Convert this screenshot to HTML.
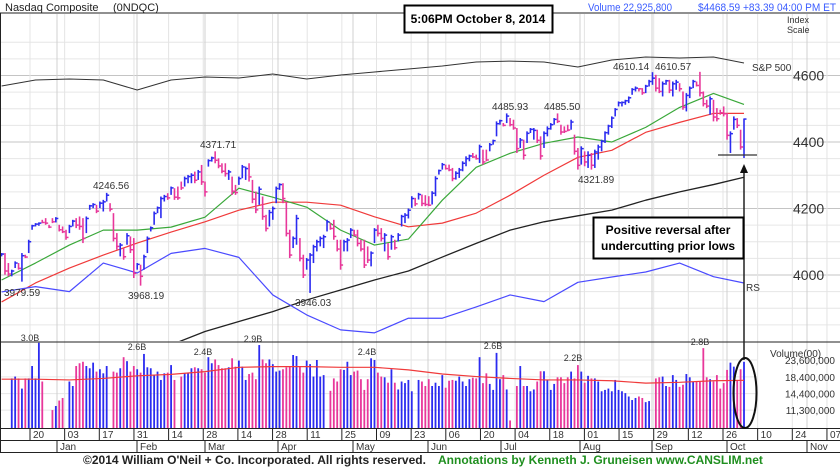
<!DOCTYPE html>
<html><head><meta charset="utf-8">
<style>
body{margin:0;background:#fff;width:840px;height:469px;overflow:hidden;font-family:"Liberation Sans",sans-serif}
svg{display:block}
</style></head>
<body>
<svg id="chart" width="840" height="469" viewBox="0 0 840 469" xmlns="http://www.w3.org/2000/svg" font-family="Liberation Sans, sans-serif">
<rect x="0" y="0" width="840" height="469" fill="#fff"/>
<g id="grid"></g>
<g id="lines"></g>
<g id="bars"></g>
<g id="vols"></g>
<g id="axis"></g>
<text x="5" y="11" font-size="11" fill="#222">Nasdaq Composite</text>
<text x="113" y="11" font-size="11" fill="#222">(0NDQC)</text>
<text x="588" y="11" font-size="11" fill="#3a5cff" textLength="84" lengthAdjust="spacingAndGlyphs">Volume 22,925,800</text>
<text x="698" y="11" font-size="11" fill="#3a5cff" textLength="138" lengthAdjust="spacingAndGlyphs">$4468.59 +83.39  04:00 PM ET</text>
<line x1="0" y1="13" x2="840" y2="13" stroke="#222" stroke-width="1"/>
<line x1="0.5" y1="13" x2="0.5" y2="452" stroke="#222"/>
<line x1="0" y1="342" x2="840" y2="342" stroke="#222" stroke-width="1"/>
<text x="787" y="23" font-size="9" fill="#333">Index</text>
<text x="787" y="33" font-size="9" fill="#333">Scale</text>
<rect x="404.5" y="5.5" width="148" height="27" fill="#fff" stroke="#000" stroke-width="2"/>
<text x="478" y="23" font-size="12" font-weight="bold" text-anchor="middle">5:06PM October 8, 2014</text>
<text x="770" y="357" font-size="10" fill="#333">Volume(00)</text>
<text x="752" y="71" font-size="10" fill="#333">S&amp;P 500</text>
<text x="746" y="291" font-size="10" fill="#333">RS</text>
<text x="83" y="464" font-size="12" font-weight="bold" fill="#222">©2014 William O'Neil + Co. Incorporated. All rights reserved.</text>
<text x="438" y="464" font-size="12" font-weight="bold" fill="#1f8f1f">Annotations by Kenneth J. Gruneisen www.CANSLIM.net</text>
<g id="annot" font-size="10" fill="#333">
<text x="4" y="296">3979.59</text>
<text x="93" y="189">4246.56</text>
<text x="128" y="299">3968.19</text>
<text x="200" y="148">4371.71</text>
<text x="295" y="306">3946.03</text>
<text x="492" y="110">4485.93</text>
<text x="544" y="110">4485.50</text>
<text x="578" y="183">4321.89</text>
<text x="613" y="70">4610.14</text>
<text x="655" y="70">4610.57</text>
<g font-size="9" text-anchor="middle">
<text x="30" y="341">3.0B</text>
<text x="137" y="350">2.6B</text>
<text x="203" y="355">2.4B</text>
<text x="253" y="342">2.9B</text>
<text x="367" y="355">2.4B</text>
<text x="493" y="349">2.6B</text>
<text x="573" y="361">2.2B</text>
<text x="700" y="345">2.8B</text>
</g>
<line x1="718" y1="155" x2="757" y2="155" stroke="#333" stroke-width="1.2"/>
<line x1="744" y1="172" x2="744" y2="360" stroke="#222" stroke-width="1.5"/>
<polygon points="744,164 740,173 748,173" fill="#111"/>
<rect x="593.5" y="217.5" width="150" height="41" fill="#fff" stroke="#000" stroke-width="2"/>
<text x="668" y="234" font-size="12" font-weight="bold" fill="#000" text-anchor="middle">Positive reversal after</text>
<text x="668" y="250" font-size="12" font-weight="bold" fill="#000" text-anchor="middle">undercutting prior lows</text>
<ellipse cx="745" cy="393" rx="11.5" ry="35" fill="none" stroke="#111" stroke-width="2"/>
</g>
</svg>
<script>
const highs=[4066,4066,4036,4016,4041,4036,4066,4061,4106,4151,4156,4158,4166,4171,4151,4171,4174,4151,4146,4136,4151,4166,4171,4176,4171,4176,4211,4216,4211,4221,4226,4247,4216,4186,4126,4096,4081,4126,4116,4111,4036,4031,4061,4116,4146,4191,4206,4236,4241,4246,4266,4261,4266,4281,4296,4301,4306,4311,4316,
4331,4281,4348,4356,4372,4351,4336,4336,4316,4296,4271,4296,4331,4326,4336,4286,4251,4266,4236,4181,4196,4206,4266,4276,4276,4221,4136,4116,4181,4111,4061,4051,4066,4091,4106,4116,4121,4166,4156,4166,4106,4106,4106,4111,4141,4136,4136,4106,4106,4086,4071,4141,4151,4141,4126,4096,4121,4106,4126,4181,4186,
4200,4237,4232,4247,4242,4240,4237,4252,4297,4317,4337,4332,4332,4322,4312,4322,4342,4357,4362,4367,4362,4392,4377,4377,4397,4407,4462,4467,4457,4486,4472,4467,4442,4412,4407,4432,4442,4442,4437,4417,4432,4447,4457,4472,4486,4452,4447,4452,4467,4422,4382,4387,4372,4372,4367,4377,
4392,4407,4432,4452,4477,4502,4522,4522,4527,4537,4562,4567,4562,4562,4572,4587,4610,4602,4592,4582,4587,4587,4582,4587,4577,4552,4547,4567,4587,4582,4611,4552,4527,4537,4527,4502,4497,4507,4487,4432,4477,4472,4437,4470];
const lows=[4056,4001,3996,3996,4021,4016,3980,4051,4066,4136,4146,4148,4156,4151,4141,4156,4158,4131,4126,4106,4126,4146,4141,4136,4096,4126,4196,4201,4186,4201,4191,4221,4191,4101,4076,4056,4046,4091,4066,3991,4016,3968,4016,4066,4131,4151,4186,4171,4221,4226,4241,4226,4226,4256,4266,4276,4276,4276,4286,
4271,4236,4326,4341,4336,4321,4306,4296,4286,4241,4241,4271,4291,4286,4281,4216,4186,4211,4166,4131,4146,4166,4216,4256,4216,4116,4051,4081,4091,4041,3991,4016,3946,4036,4071,4086,4081,4131,4136,4106,4071,4016,4071,4071,4111,4116,4086,4071,4021,4036,4026,4096,4116,4101,4071,4046,4076,4076,4101,4146,4156,
4170,4202,4207,4227,4207,4207,4207,4212,4237,4302,4317,4317,4312,4282,4287,4292,4312,4327,4342,4352,4347,4337,4332,4342,4372,4392,4417,4452,4447,4457,4447,4437,4367,4382,4347,4397,4427,4407,4397,4347,4382,4417,4437,4452,4457,4422,4427,4432,4437,4362,4317,4332,4327,4322,4317,4322,
4347,4372,4397,4422,4442,4477,4507,4507,4512,4517,4542,4552,4552,4542,4547,4567,4572,4552,4547,4537,4572,4547,4537,4557,4552,4497,4492,4532,4562,4567,4537,4507,4502,4482,4462,4462,4482,4477,4407,4367,4437,4442,4377,4352];
const closes=[4063,4012,4003,4012,4036,4020,4058,4054,4100,4148,4153,4156,4158,4156,4144,4160,4170,4136,4130,4113,4146,4162,4150,4146,4110,4170,4208,4212,4192,4216,4220,4240,4198,4110,4086,4090,4055,4118,4076,4005,4032,3996,4055,4110,4142,4185,4202,4230,4236,4232,4262,4234,4232,4262,4290,4296,4300,4285,4310,
4280,4250,4344,4352,4345,4328,4312,4305,4310,4252,4248,4290,4325,4320,4295,4228,4196,4258,4176,4140,4188,4200,4260,4272,4230,4125,4060,4110,4170,4050,4000,4045,4060,4085,4100,4110,4115,4160,4140,4116,4078,4030,4100,4105,4135,4120,4095,4078,4030,4045,4066,4135,4125,4110,4120,4055,4115,4082,4120,4176,4180,
4195,4230,4214,4242,4215,4212,4210,4246,4290,4314,4332,4320,4316,4290,4306,4316,4336,4350,4358,4355,4350,4386,4340,4346,4392,4404,4455,4464,4450,4478,4452,4442,4380,4406,4360,4426,4438,4435,4405,4358,4426,4440,4452,4468,4462,4430,4432,4436,4460,4372,4330,4380,4340,4360,4330,4370,
4385,4402,4428,4448,4472,4498,4518,4519,4524,4533,4558,4562,4560,4548,4568,4582,4592,4562,4552,4575,4584,4556,4575,4580,4560,4505,4540,4562,4582,4570,4548,4515,4508,4530,4475,4470,4488,4485,4420,4425,4468,4450,4385,4469];
const ups=[1,0,0,1,1,0,1,0,1,1,1,1,0,0,0,0,1,0,0,0,1,1,0,0,0,1,1,1,0,1,1,1,0,0,0,1,0,1,0,0,1,0,1,1,1,1,1,1,1,0,1,0,0,0,1,1,1,0,1,
0,0,1,1,0,0,0,0,1,0,0,1,1,1,0,0,0,1,0,0,1,1,1,1,0,0,0,1,1,0,0,1,1,1,1,1,1,1,0,0,0,0,1,1,1,0,0,0,0,0,1,1,0,0,1,0,1,0,1,1,1,
1,1,0,1,0,0,0,1,1,1,1,0,0,0,1,1,1,1,1,0,0,1,0,0,1,1,1,1,0,1,0,0,0,1,0,1,1,1,0,0,1,1,1,1,0,0,0,0,1,0,0,1,0,1,0,1,
1,1,1,1,1,1,1,1,1,1,1,1,0,0,1,1,1,0,0,1,1,0,1,1,0,0,1,1,1,0,0,0,0,1,0,0,0,0,0,1,1,0,0,1];
const volumes=[1.80,1.85,1.80,1.55,1.80,1.80,2.16,1.80,3.04,1.72,null,null,1.13,1.20,1.30,1.35,null,1.72,1.61,2.16,2.25,2.30,2.16,2.09,2.27,1.99,2.06,1.94,2.16,null,1.99,1.96,2.09,2.46,2.32,1.99,2.16,2.06,1.96,2.58,2.12,2.09,1.89,1.99,1.76,1.94,1.96,2.19,1.76,null,1.85,1.94,1.94,2.09,2.12,2.09,2.06,1.96,2.46,2.25,2.38,2.19,2.09,2.09,2.12,2.42,2.14,2.34,2.14,1.76,1.92,1.96,1.78,2.94,2.38,2.25,2.38,2.22,1.99,2.02,2.06,2.12,2.16,2.54,2.50,2.14,1.96,2.34,2.22,1.85,2.36,1.85,1.89,null,1.50,1.80,1.72,2.06,2.04,2.30,1.89,1.99,2.02,1.78,1.52,1.78,2.42,2.36,1.96,1.85,1.83,1.69,2.06,1.69,1.53,1.72,1.68,1.76,1.49,null,1.76,1.72,
1.61,1.78,1.61,1.69,1.61,1.89,1.57,1.74,1.76,1.74,1.85,1.72,1.61,1.78,1.82,1.80,2.46,1.68,1.94,1.66,1.52,2.62,1.78,1.89,1.53,0.97,null,1.61,2.16,1.61,1.61,1.49,1.53,1.72,2.00,2.00,1.76,1.52,1.66,1.83,1.83,1.68,1.83,1.99,1.80,2.19,1.99,1.69,1.87,1.80,1.80,1.72,1.49,1.52,1.55,1.49,1.76,1.52,1.49,1.45,1.38,1.31,1.35,1.38,1.35,1.27,1.29,null,1.80,1.83,1.85,1.61,1.59,1.89,1.76,1.59,1.64,1.92,1.83,1.72,1.72,1.72,2.81,1.83,1.78,1.72,1.89,1.55,1.68,2.04,2.27,2.14,1.76,2.06,2.30];
const maIdx=[0,10,20,30,40,50,60,70,80,90,100,110,120,130,140,150,160,170,180,190,200,210,219];
const ma50=[3985,4036,4090,4135,4135,4144,4174,4261,4234,4204,4135,4090,4108,4225,4324,4366,4396,4415,4400,4444,4504,4546,4513];
const ma200=[3919,3976,4021,4060,4096,4129,4160,4195,4219,4219,4210,4175,4145,4156,4186,4240,4300,4354,4375,4429,4459,4486,4486];
const ma200long=[null,null,null,null,null,3790,3830,3860,3890,3925,3955,3985,4012,4054,4095,4135,4160,4178,4195,4225,4250,4272,4294];
const rsLine=[3949,3965,3950,4036,4006,4065,4080,4053,3940,3880,3835,3826,3870,3870,3904,3940,3920,3978,3994,4009,4036,3995,3976];
const spLine=[1780,1826,1834,1826,1749,1826,1849,1842,1872,1834,1865,1888,1911,1934,1965,1972,1965,1926,1980,2003,1996,2003,1957];
const volAvg=[1.78,1.78,1.76,1.80,1.87,1.91,1.99,2.12,2.14,2.14,2.12,2.12,2.04,1.92,1.85,1.80,1.76,1.76,1.74,1.68,1.70,1.74,1.75];
const priceTicks=[4600,4400,4200,4000];
const volTicks=[2.36,1.84,1.44,1.13];
const volTickLabels=["23,600,000","18,400,000","14,400,000","11,300,000"];
const weekLabels=["20","03","17","31","14","28","14","28","11","25","09","23","06","20","04","18","01","15","29","12","26","10","24","07"];
const monthLabels=["Jan","Feb","Mar","Apr","May","Jun","Jul","Aug","Sep","Oct","Nov"];

const NS="http://www.w3.org/2000/svg";
const N=highs.length;
const SP=3.39;
function xBar(i){return 744-(N-1-i)*SP;}
function yP(p){return 275-(p-4000)*0.3325;}
function yV(v){return Math.min(428,360-Math.log(v/2.36)*68);}
function ySP(v){return 56+(2011-v)/7.7;}
function mk(tag,attrs,parent){const e=document.createElementNS(NS,tag);for(const k in attrs)e.setAttribute(k,attrs[k]);document.getElementById(parent).appendChild(e);return e;}
const BLUE="#2b2bf0",PINK="#e8379a";

for(let p=3850;p<=4700;p+=50){const y=yP(p);if(y<14||y>341)continue;
 const l=mk('line',{x1:0,x2:840,y1:y,y2:y,stroke:p%200===0?'#c4c4c4':'#e6e6e6','stroke-width':1},'grid');
 
 }
for(let k=0;k<volTicks.length;k++){const y=yV(volTicks[k]);
 const l=mk('line',{x1:0,x2:757,y1:y,y2:y,stroke:'#e6e6e6'},'grid');
 
 }
for(let k=0;k<weekLabels.length;k++){const x=30+k*34.65;
 const l=mk('line',{x1:x,x2:x,y1:14,y2:428,stroke:'#e4e4e4'},'grid');
 
 }
const monthX=[57,137,205,278,353,428,501,580,652,727,807];
for(let k=0;k<monthLabels.length;k++){const x=monthX[k];
 const l=mk('line',{x1:x,x2:x,y1:14,y2:428,stroke:'#d0d0d0'},'grid');
 
 }

function poly(arr,yf,color,name,w){let pts=[];for(let k=0;k<arr.length;k++){if(arr[k]==null)continue;let y=yf(arr[k]);pts.push(xBar(maIdx[k])+','+y);}
 const p=mk('polyline',{points:pts.join(' '),fill:'none',stroke:color,'stroke-width':w||1.2,'stroke-linejoin':'round'},'lines');
 
 }
mk('clipPath',{id:'pc'},'lines').innerHTML='<rect x="0" y="14" width="840" height="327"/>';
document.getElementById('lines').setAttribute('clip-path','url(#pc)');
poly(spLine,ySP,'#333','sp500-line',1);
poly(ma200long,yP,'#222','ma-200-day-line',1.3);
poly(ma200,yP,'#f03a3a','ma-50-day-line',1.2);
poly(ma50,yP,'#3aa83a','ma-10-week-line',1.2);
poly(rsLine,yP,'#4a4aff','rs-line',1.2);

for(let i=0;i<N;i++){const x=xBar(i),c=ups[i]?BLUE:PINK;
 const g=mk('g',{},'bars');
 
 
 const h=document.createElementNS(NS,'line');h.setAttribute('x1',x);h.setAttribute('x2',x);h.setAttribute('y1',yP(highs[i]));h.setAttribute('y2',yP(lows[i]));h.setAttribute('stroke',c);h.setAttribute('stroke-width',1.6);g.appendChild(h);
 const t=document.createElementNS(NS,'line');t.setAttribute('x1',x-0.5);t.setAttribute('x2',x+2.5);t.setAttribute('y1',yP(closes[i]));t.setAttribute('y2',yP(closes[i]));t.setAttribute('stroke',c);t.setAttribute('stroke-width',1.5);g.appendChild(t);}

const NV=volumes.length;
for(let j=0;j<NV;j++){if(volumes[j]==null)continue;const x=744-(NV-1-j)*SP;const bi=j-(NV-N);const up=bi>=0&&bi<N?ups[bi]:1;
 const y=yV(volumes[j]);
 const r=mk('rect',{x:x-0.9,y:y,width:1.8,height:428-y,fill:up?BLUE:PINK},'vols');
 
 }
{let pts=[];for(let k=0;k<volAvg.length;k++)pts.push(xBar(maIdx[k])+','+yV(volAvg[k]));
 const p=mk('polyline',{points:pts.join(' '),fill:'none',stroke:'#f03a3a','stroke-width':1.2},'vols');
 
 }

for(let k=0;k<priceTicks.length;k++){const t=mk('text',{x:793,y:yP(priceTicks[k])+5,'font-size':14,fill:'#333'},'axis');t.textContent=priceTicks[k];
 
 }
for(let k=0;k<volTicks.length;k++){const t=mk('text',{x:835,y:yV(volTicks[k])+4,'font-size':10,fill:'#333','text-anchor':'end'},'axis');t.textContent=volTickLabels[k];
 
 }
mk('line',{x1:0,x2:840,y1:428.5,y2:428.5,stroke:'#222'},'axis');
mk('line',{x1:0,x2:840,y1:440.5,y2:440.5,stroke:'#222'},'axis');
mk('line',{x1:0,x2:840,y1:452.5,y2:452.5,stroke:'#222'},'axis');
for(let k=0;k<weekLabels.length;k++){const x=30+k*34.65;
 mk('line',{x1:x,x2:x,y1:428,y2:440,stroke:'#222'},'axis');
 const t=mk('text',{x:x+3,y:438,'font-size':10,fill:'#333'},'axis');t.textContent=weekLabels[k];
 
 }
for(let k=0;k<monthLabels.length;k++){const x=monthX[k];
 mk('line',{x1:x,x2:x,y1:440,y2:452,stroke:'#222'},'axis');
 const t=mk('text',{x:x+3,y:450,'font-size':10,fill:'#333'},'axis');t.textContent=monthLabels[k];
 
 }
</script>
</body></html>
